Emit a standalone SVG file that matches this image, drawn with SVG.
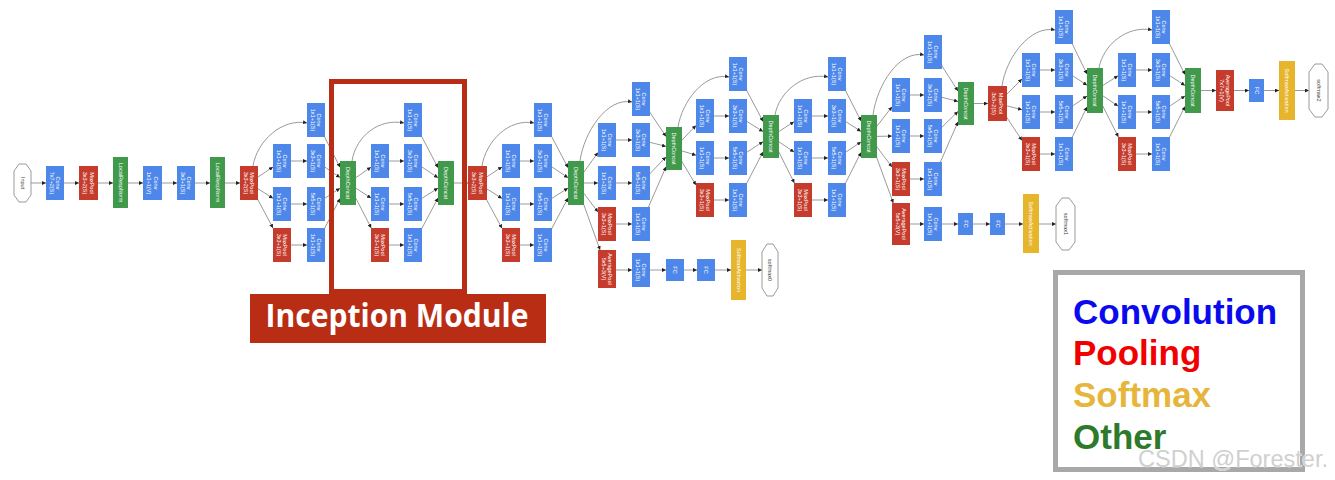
<svg xmlns="http://www.w3.org/2000/svg" width="1335" height="480" viewBox="0 0 1335 480">
<style>
.b{fill:#4d87ea}.r{fill:#c53b2c}.g{fill:#419a4c}.y{fill:#e7b52c}
.o{fill:#fff;stroke:#9a9a9a;stroke-width:1}
text.t{font-family:"Liberation Sans",Arial,sans-serif;font-size:5.5px;fill:#fff;text-anchor:middle}
text.k{font-family:"Liberation Sans",Arial,sans-serif;font-size:5.5px;fill:#444;text-anchor:middle}
.e{fill:none;stroke:#9a9a9a;stroke-width:1;marker-end:url(#a)}
.lg{font-family:"Liberation Sans",Arial,sans-serif;font-weight:bold;font-size:35px}
</style>
<defs>
<marker id="a" viewBox="0 0 6 6" refX="6" refY="3" markerWidth="4" markerHeight="4" markerUnits="userSpaceOnUse" orient="auto"><path d="M0,0L6,3L0,6z" fill="#222"/></marker>
</defs>
<rect width="1335" height="480" fill="#fff"/>

<g id="connectors">
<path class="e" d="M31 183H46"/><path class="e" d="M64 183H79"/><path class="e" d="M98 183H113"/><path class="e" d="M128 183H143"/><path class="e" d="M162 183H177"/><path class="e" d="M195 183H210"/><path class="e" d="M225 183H240"/>
<!-- 3a -->
<path class="e" d="M249 183L273 167"/><path class="e" d="M249 183L273 198.3"/><path class="e" d="M249 183L273 228.1"/>
<path class="e" d="M291 161H307"/><path class="e" d="M291 204H307"/><path class="e" d="M291 245H307"/>
<path class="e" d="M316 120L340 167.3"/><path class="e" d="M316 161L340 177.5"/><path class="e" d="M316 204L340 188.3"/><path class="e" d="M316 245L340 198.5"/>
<path class="e" d="M253 166C257 141 282 118 307 123"/>
<!-- 3b -->
<path class="e" d="M348 183L371 167.2"/><path class="e" d="M348 183L371 198.1"/><path class="e" d="M348 183L371.2 228"/>
<path class="e" d="M389 161H404"/><path class="e" d="M389 204H404"/><path class="e" d="M389 245H404"/>
<path class="e" d="M413 120L438 167.7"/><path class="e" d="M413 161L438 177.7"/><path class="e" d="M413 204L438 188.1"/><path class="e" d="M413 245L438 198"/>
<path class="e" d="M352 161C356 136 379 118 404 123"/>
<path class="e" d="M454 183H468"/>
<!-- 4a -->
<path class="e" d="M477.5 183L502 166.9"/><path class="e" d="M477.5 183L502 198.4"/><path class="e" d="M477.5 183L502 228.3"/>
<path class="e" d="M520 161H534"/><path class="e" d="M520 204H534"/><path class="e" d="M520 245H534"/>
<path class="e" d="M543 120L568 167.7"/><path class="e" d="M543 161L568 177.7"/><path class="e" d="M543 204L568 188.1"/><path class="e" d="M543 245L568 198"/>
<path class="e" d="M482 166C486 141 509 118 534 123"/>
<!-- 4b -->
<path class="e" d="M576 183L598 152.5"/><path class="e" d="M576 183H598"/><path class="e" d="M576 183L598 212.1"/><path class="e" d="M576 183L600.1 250"/>
<path class="e" d="M616 140H632"/><path class="e" d="M616 183H632"/><path class="e" d="M616 224H632"/>
<path class="e" d="M641 99L666 136.5"/><path class="e" d="M641 140L666 146.4"/><path class="e" d="M641 183L666 156.9"/><path class="e" d="M641 224L666 166.8"/>
<path class="e" d="M580 161C584 132 607 97 632 102"/>
<path class="e" d="M616 270H632"/><path class="e" d="M650 270H666"/><path class="e" d="M684 270H697"/><path class="e" d="M715 270H731"/><path class="e" d="M746 270H762"/>
<!-- 4c -->
<path class="e" d="M674 148.5L696 125.4"/><path class="e" d="M674 148.5L696 155.2"/><path class="e" d="M674 148.5L696 185.1"/>
<path class="e" d="M714 116H729"/><path class="e" d="M714 158H729"/><path class="e" d="M714 200H729"/>
<path class="e" d="M738 74L763 121.4"/><path class="e" d="M738 116L763 131.5"/><path class="e" d="M738 158L763 141.7"/><path class="e" d="M738 200L763 151.9"/>
<path class="e" d="M678 127C682 102 704 72 729 77"/>
<!-- 4d -->
<path class="e" d="M771 136.5L794 121.8"/><path class="e" d="M771 136.5L794 152"/><path class="e" d="M771 136.5L794.4 183"/>
<path class="e" d="M812 116H828"/><path class="e" d="M812 158H828"/><path class="e" d="M812 200H828"/>
<path class="e" d="M837 74L861 120.9"/><path class="e" d="M837 116L861 131.4"/><path class="e" d="M837 158L861 141.9"/><path class="e" d="M837 200L861 152.4"/>
<path class="e" d="M775 115C779 92 803 72 828 77"/>
<!-- 4e -->
<path class="e" d="M869 136.5L892 106.7"/><path class="e" d="M869 136.5L892 136.1"/><path class="e" d="M869 136.5L892 167"/><path class="e" d="M869 136.5L893.3 203"/>
<path class="e" d="M910 95H924"/><path class="e" d="M910 136H924"/><path class="e" d="M910 179H924"/>
<path class="e" d="M933 52L958 91"/><path class="e" d="M933 95L958 101.4"/><path class="e" d="M933 136L958 111.4"/><path class="e" d="M933 179L958 121.8"/>
<path class="e" d="M873 115C877 85 899 50 924 55"/>
<path class="e" d="M910 224H924"/><path class="e" d="M942 224H958"/><path class="e" d="M973 224H990"/><path class="e" d="M1005 224H1023"/><path class="e" d="M1039 224H1056"/>
<path class="e" d="M974 103.5H988"/>
<!-- 5a -->
<path class="e" d="M997.5 103.5L1022 79"/><path class="e" d="M997.5 103.5L1022 109.7"/><path class="e" d="M997.5 103.5L1022 140.4"/>
<path class="e" d="M1040 70H1055"/><path class="e" d="M1040 112H1055"/><path class="e" d="M1040 154H1055"/>
<path class="e" d="M1064 27L1087 74.1"/><path class="e" d="M1064 70L1087 85.2"/><path class="e" d="M1064 112L1087 96"/><path class="e" d="M1064 154L1087 106.9"/>
<path class="e" d="M1002 86C1006 58 1030 25 1055 30"/>
<!-- 5b -->
<path class="e" d="M1095 90.5L1118 75.8"/><path class="e" d="M1095 90.5L1118 106"/><path class="e" d="M1095 90.5L1118.4 137"/>
<path class="e" d="M1136 70H1152"/><path class="e" d="M1136 112H1152"/><path class="e" d="M1136 154H1152"/>
<path class="e" d="M1161 27L1185 74.6"/><path class="e" d="M1161 70L1185 85.4"/><path class="e" d="M1161 112L1185 95.9"/><path class="e" d="M1161 154L1185 106.4"/>
<path class="e" d="M1099 68C1103 45 1127 25 1152 30"/>
<path class="e" d="M1201 90.5H1216"/><path class="e" d="M1234 90.5H1249"/><path class="e" d="M1264 90.5H1279"/><path class="e" d="M1295 90.5H1309"/>
</g>

<!-- stem -->
<g id="input"><polygon class="o" points="19,164 26,164 31,171 31,195 26,202 19,202 14,195 14,171"/><text class="k" transform="translate(22.5 183) rotate(90)" y="2">Input</text></g>
<g id="conv1"><rect class="b" x="46" y="166" width="18" height="34"/><text class="t" transform="translate(55 183) rotate(90)"><tspan x="0" y="-1">Conv</tspan><tspan x="0" y="5.5">7x7+2(S)</tspan></text></g>
<g id="pool1"><rect class="r" x="79" y="166" width="19" height="34"/><text class="t" transform="translate(88.5 183) rotate(90)"><tspan x="0" y="-1">MaxPool</tspan><tspan x="0" y="5.5">3x3+2(S)</tspan></text></g>
<g id="lrn1"><rect class="g" x="113" y="157" width="15" height="51"/><text class="t" transform="translate(120.5 182.5) rotate(90)" y="2">LocalRespNorm</text></g>
<g id="conv2"><rect class="b" x="143" y="166" width="19" height="34"/><text class="t" transform="translate(152.5 183) rotate(90)"><tspan x="0" y="-1">Conv</tspan><tspan x="0" y="5.5">1x1+1(V)</tspan></text></g>
<g id="conv3"><rect class="b" x="177" y="166" width="18" height="34"/><text class="t" transform="translate(186 183) rotate(90)"><tspan x="0" y="-1">Conv</tspan><tspan x="0" y="5.5">3x3+1(S)</tspan></text></g>
<g id="lrn2"><rect class="g" x="210" y="157" width="15" height="51"/><text class="t" transform="translate(217.5 182.5) rotate(90)" y="2">LocalRespNorm</text></g>
<g id="pool2"><rect class="r" x="240" y="166" width="18" height="34"/><text class="t" transform="translate(249 183) rotate(90)"><tspan x="0" y="-1">MaxPool</tspan><tspan x="0" y="5.5">3x3+2(S)</tspan></text></g>

<!-- inception 3a -->
<g id="i3a_1x1"><rect class="b" x="307" y="103" width="18" height="34"/><text class="t" transform="translate(316 120) rotate(90)"><tspan x="0" y="-1">Conv</tspan><tspan x="0" y="5.5">1x1+1(S)</tspan></text></g>
<g id="i3a_3x3r"><rect class="b" x="273" y="144" width="18" height="34"/><text class="t" transform="translate(282 161) rotate(90)"><tspan x="0" y="-1">Conv</tspan><tspan x="0" y="5.5">1x1+1(S)</tspan></text></g>
<g id="i3a_3x3"><rect class="b" x="307" y="144" width="18" height="34"/><text class="t" transform="translate(316 161) rotate(90)"><tspan x="0" y="-1">Conv</tspan><tspan x="0" y="5.5">3x3+1(S)</tspan></text></g>
<g id="i3a_5x5r"><rect class="b" x="273" y="187" width="18" height="34"/><text class="t" transform="translate(282 204) rotate(90)"><tspan x="0" y="-1">Conv</tspan><tspan x="0" y="5.5">1x1+1(S)</tspan></text></g>
<g id="i3a_5x5"><rect class="b" x="307" y="187" width="18" height="34"/><text class="t" transform="translate(316 204) rotate(90)"><tspan x="0" y="-1">Conv</tspan><tspan x="0" y="5.5">5x5+1(S)</tspan></text></g>
<g id="i3a_pool"><rect class="r" x="273" y="228" width="18" height="34"/><text class="t" transform="translate(282 245) rotate(90)"><tspan x="0" y="-1">MaxPool</tspan><tspan x="0" y="5.5">3x3+1(S)</tspan></text></g>
<g id="i3a_proj"><rect class="b" x="307" y="228" width="18" height="34"/><text class="t" transform="translate(316 245) rotate(90)"><tspan x="0" y="-1">Conv</tspan><tspan x="0" y="5.5">1x1+1(S)</tspan></text></g>
<g id="i3a_concat"><rect class="g" x="340" y="161" width="16" height="44"/><text class="t" transform="translate(348 183) rotate(90)" y="2">DepthConcat</text></g>

<!-- inception 3b -->
<g id="i3b_1x1"><rect class="b" x="404" y="103" width="18" height="34"/><text class="t" transform="translate(413 120) rotate(90)"><tspan x="0" y="-1">Conv</tspan><tspan x="0" y="5.5">1x1+1(S)</tspan></text></g>
<g id="i3b_3x3r"><rect class="b" x="371" y="144" width="18" height="34"/><text class="t" transform="translate(380 161) rotate(90)"><tspan x="0" y="-1">Conv</tspan><tspan x="0" y="5.5">1x1+1(S)</tspan></text></g>
<g id="i3b_3x3"><rect class="b" x="404" y="144" width="18" height="34"/><text class="t" transform="translate(413 161) rotate(90)"><tspan x="0" y="-1">Conv</tspan><tspan x="0" y="5.5">3x3+1(S)</tspan></text></g>
<g id="i3b_5x5r"><rect class="b" x="371" y="187" width="18" height="34"/><text class="t" transform="translate(380 204) rotate(90)"><tspan x="0" y="-1">Conv</tspan><tspan x="0" y="5.5">1x1+1(S)</tspan></text></g>
<g id="i3b_5x5"><rect class="b" x="404" y="187" width="18" height="34"/><text class="t" transform="translate(413 204) rotate(90)"><tspan x="0" y="-1">Conv</tspan><tspan x="0" y="5.5">5x5+1(S)</tspan></text></g>
<g id="i3b_pool"><rect class="r" x="371" y="228" width="18" height="34"/><text class="t" transform="translate(380 245) rotate(90)"><tspan x="0" y="-1">MaxPool</tspan><tspan x="0" y="5.5">3x3+1(S)</tspan></text></g>
<g id="i3b_proj"><rect class="b" x="404" y="228" width="18" height="34"/><text class="t" transform="translate(413 245) rotate(90)"><tspan x="0" y="-1">Conv</tspan><tspan x="0" y="5.5">1x1+1(S)</tspan></text></g>
<g id="i3b_concat"><rect class="g" x="438" y="161" width="16" height="44"/><text class="t" transform="translate(446 183) rotate(90)" y="2">DepthConcat</text></g>

<g id="pool3"><rect class="r" x="468" y="166" width="19" height="34"/><text class="t" transform="translate(477.5 183) rotate(90)"><tspan x="0" y="-1">MaxPool</tspan><tspan x="0" y="5.5">3x3+2(S)</tspan></text></g>

<!-- inception 4a -->
<g id="i4a_1x1"><rect class="b" x="534" y="103" width="18" height="34"/><text class="t" transform="translate(543 120) rotate(90)"><tspan x="0" y="-1">Conv</tspan><tspan x="0" y="5.5">1x1+1(S)</tspan></text></g>
<g id="i4a_3x3r"><rect class="b" x="502" y="144" width="18" height="34"/><text class="t" transform="translate(511 161) rotate(90)"><tspan x="0" y="-1">Conv</tspan><tspan x="0" y="5.5">1x1+1(S)</tspan></text></g>
<g id="i4a_3x3"><rect class="b" x="534" y="144" width="18" height="34"/><text class="t" transform="translate(543 161) rotate(90)"><tspan x="0" y="-1">Conv</tspan><tspan x="0" y="5.5">3x3+1(S)</tspan></text></g>
<g id="i4a_5x5r"><rect class="b" x="502" y="187" width="18" height="34"/><text class="t" transform="translate(511 204) rotate(90)"><tspan x="0" y="-1">Conv</tspan><tspan x="0" y="5.5">1x1+1(S)</tspan></text></g>
<g id="i4a_5x5"><rect class="b" x="534" y="187" width="18" height="34"/><text class="t" transform="translate(543 204) rotate(90)"><tspan x="0" y="-1">Conv</tspan><tspan x="0" y="5.5">5x5+1(S)</tspan></text></g>
<g id="i4a_pool"><rect class="r" x="502" y="228" width="18" height="34"/><text class="t" transform="translate(511 245) rotate(90)"><tspan x="0" y="-1">MaxPool</tspan><tspan x="0" y="5.5">3x3+1(S)</tspan></text></g>
<g id="i4a_proj"><rect class="b" x="534" y="228" width="18" height="34"/><text class="t" transform="translate(543 245) rotate(90)"><tspan x="0" y="-1">Conv</tspan><tspan x="0" y="5.5">1x1+1(S)</tspan></text></g>
<g id="i4a_concat"><rect class="g" x="568" y="161" width="16" height="44"/><text class="t" transform="translate(576 183) rotate(90)" y="2">DepthConcat</text></g>

<!-- inception 4b + aux 0 -->
<g id="i4b_1x1"><rect class="b" x="632" y="82" width="18" height="34"/><text class="t" transform="translate(641 99) rotate(90)"><tspan x="0" y="-1">Conv</tspan><tspan x="0" y="5.5">1x1+1(S)</tspan></text></g>
<g id="i4b_3x3r"><rect class="b" x="598" y="123" width="18" height="34"/><text class="t" transform="translate(607 140) rotate(90)"><tspan x="0" y="-1">Conv</tspan><tspan x="0" y="5.5">1x1+1(S)</tspan></text></g>
<g id="i4b_3x3"><rect class="b" x="632" y="123" width="18" height="34"/><text class="t" transform="translate(641 140) rotate(90)"><tspan x="0" y="-1">Conv</tspan><tspan x="0" y="5.5">3x3+1(S)</tspan></text></g>
<g id="i4b_5x5r"><rect class="b" x="598" y="166" width="18" height="34"/><text class="t" transform="translate(607 183) rotate(90)"><tspan x="0" y="-1">Conv</tspan><tspan x="0" y="5.5">1x1+1(S)</tspan></text></g>
<g id="i4b_5x5"><rect class="b" x="632" y="166" width="18" height="34"/><text class="t" transform="translate(641 183) rotate(90)"><tspan x="0" y="-1">Conv</tspan><tspan x="0" y="5.5">5x5+1(S)</tspan></text></g>
<g id="i4b_pool"><rect class="r" x="598" y="207" width="18" height="34"/><text class="t" transform="translate(607 224) rotate(90)"><tspan x="0" y="-1">MaxPool</tspan><tspan x="0" y="5.5">3x3+1(S)</tspan></text></g>
<g id="i4b_proj"><rect class="b" x="632" y="207" width="18" height="34"/><text class="t" transform="translate(641 224) rotate(90)"><tspan x="0" y="-1">Conv</tspan><tspan x="0" y="5.5">1x1+1(S)</tspan></text></g>
<g id="i4b_concat"><rect class="g" x="666" y="127" width="16" height="43"/><text class="t" transform="translate(674 148.5) rotate(90)" y="2">DepthConcat</text></g>
<g id="aux0_pool"><rect class="r" x="598" y="250" width="18" height="38"/><text class="t" transform="translate(607 269) rotate(90)"><tspan x="0" y="-1">AveragePool</tspan><tspan x="0" y="5.5">5x5+3(V)</tspan></text></g>
<g id="aux0_conv"><rect class="b" x="632" y="253" width="18" height="34"/><text class="t" transform="translate(641 270) rotate(90)"><tspan x="0" y="-1">Conv</tspan><tspan x="0" y="5.5">1x1+1(S)</tspan></text></g>
<g id="aux0_fc1"><rect class="b" x="666" y="259" width="18" height="22"/><text class="t" transform="translate(675 270) rotate(90)" y="2">FC</text></g>
<g id="aux0_fc2"><rect class="b" x="697" y="259" width="18" height="22"/><text class="t" transform="translate(706 270) rotate(90)" y="2">FC</text></g>
<g id="aux0_sm"><rect class="y" x="731" y="240" width="15" height="60"/><text class="t" transform="translate(738.5 270) rotate(90)" y="2">SoftmaxActivation</text></g>
<g id="softmax0"><polygon class="o" points="767,244 773,244 778,252 778,288 773,296 767,296 762,288 762,252"/><text class="k" transform="translate(770 270) rotate(90)" y="2">softmax0</text></g>

<!-- inception 4c -->
<g id="i4c_1x1"><rect class="b" x="729" y="57" width="18" height="34"/><text class="t" transform="translate(738 74) rotate(90)"><tspan x="0" y="-1">Conv</tspan><tspan x="0" y="5.5">1x1+1(S)</tspan></text></g>
<g id="i4c_3x3r"><rect class="b" x="696" y="99" width="18" height="34"/><text class="t" transform="translate(705 116) rotate(90)"><tspan x="0" y="-1">Conv</tspan><tspan x="0" y="5.5">1x1+1(S)</tspan></text></g>
<g id="i4c_3x3"><rect class="b" x="729" y="99" width="18" height="34"/><text class="t" transform="translate(738 116) rotate(90)"><tspan x="0" y="-1">Conv</tspan><tspan x="0" y="5.5">3x3+1(S)</tspan></text></g>
<g id="i4c_5x5r"><rect class="b" x="696" y="141" width="18" height="34"/><text class="t" transform="translate(705 158) rotate(90)"><tspan x="0" y="-1">Conv</tspan><tspan x="0" y="5.5">1x1+1(S)</tspan></text></g>
<g id="i4c_5x5"><rect class="b" x="729" y="141" width="18" height="34"/><text class="t" transform="translate(738 158) rotate(90)"><tspan x="0" y="-1">Conv</tspan><tspan x="0" y="5.5">5x5+1(S)</tspan></text></g>
<g id="i4c_pool"><rect class="r" x="696" y="183" width="18" height="34"/><text class="t" transform="translate(705 200) rotate(90)"><tspan x="0" y="-1">MaxPool</tspan><tspan x="0" y="5.5">3x3+1(S)</tspan></text></g>
<g id="i4c_proj"><rect class="b" x="729" y="183" width="18" height="34"/><text class="t" transform="translate(738 200) rotate(90)"><tspan x="0" y="-1">Conv</tspan><tspan x="0" y="5.5">1x1+1(S)</tspan></text></g>
<g id="i4c_concat"><rect class="g" x="763" y="115" width="16" height="43"/><text class="t" transform="translate(771 136.5) rotate(90)" y="2">DepthConcat</text></g>

<!-- inception 4d -->
<g id="i4d_1x1"><rect class="b" x="828" y="57" width="18" height="34"/><text class="t" transform="translate(837 74) rotate(90)"><tspan x="0" y="-1">Conv</tspan><tspan x="0" y="5.5">1x1+1(S)</tspan></text></g>
<g id="i4d_3x3r"><rect class="b" x="794" y="99" width="18" height="34"/><text class="t" transform="translate(803 116) rotate(90)"><tspan x="0" y="-1">Conv</tspan><tspan x="0" y="5.5">1x1+1(S)</tspan></text></g>
<g id="i4d_3x3"><rect class="b" x="828" y="99" width="18" height="34"/><text class="t" transform="translate(837 116) rotate(90)"><tspan x="0" y="-1">Conv</tspan><tspan x="0" y="5.5">3x3+1(S)</tspan></text></g>
<g id="i4d_5x5r"><rect class="b" x="794" y="141" width="18" height="34"/><text class="t" transform="translate(803 158) rotate(90)"><tspan x="0" y="-1">Conv</tspan><tspan x="0" y="5.5">1x1+1(S)</tspan></text></g>
<g id="i4d_5x5"><rect class="b" x="828" y="141" width="18" height="34"/><text class="t" transform="translate(837 158) rotate(90)"><tspan x="0" y="-1">Conv</tspan><tspan x="0" y="5.5">5x5+1(S)</tspan></text></g>
<g id="i4d_pool"><rect class="r" x="794" y="183" width="18" height="34"/><text class="t" transform="translate(803 200) rotate(90)"><tspan x="0" y="-1">MaxPool</tspan><tspan x="0" y="5.5">3x3+1(S)</tspan></text></g>
<g id="i4d_proj"><rect class="b" x="828" y="183" width="18" height="34"/><text class="t" transform="translate(837 200) rotate(90)"><tspan x="0" y="-1">Conv</tspan><tspan x="0" y="5.5">1x1+1(S)</tspan></text></g>
<g id="i4d_concat"><rect class="g" x="861" y="115" width="16" height="43"/><text class="t" transform="translate(869 136.5) rotate(90)" y="2">DepthConcat</text></g>

<!-- inception 4e + aux 1 -->
<g id="i4e_1x1"><rect class="b" x="924" y="35" width="18" height="34"/><text class="t" transform="translate(933 52) rotate(90)"><tspan x="0" y="-1">Conv</tspan><tspan x="0" y="5.5">1x1+1(S)</tspan></text></g>
<g id="i4e_3x3r"><rect class="b" x="892" y="78" width="18" height="34"/><text class="t" transform="translate(901 95) rotate(90)"><tspan x="0" y="-1">Conv</tspan><tspan x="0" y="5.5">1x1+1(S)</tspan></text></g>
<g id="i4e_3x3"><rect class="b" x="924" y="78" width="18" height="34"/><text class="t" transform="translate(933 95) rotate(90)"><tspan x="0" y="-1">Conv</tspan><tspan x="0" y="5.5">3x3+1(S)</tspan></text></g>
<g id="i4e_5x5r"><rect class="b" x="892" y="119" width="18" height="34"/><text class="t" transform="translate(901 136) rotate(90)"><tspan x="0" y="-1">Conv</tspan><tspan x="0" y="5.5">1x1+1(S)</tspan></text></g>
<g id="i4e_5x5"><rect class="b" x="924" y="119" width="18" height="34"/><text class="t" transform="translate(933 136) rotate(90)"><tspan x="0" y="-1">Conv</tspan><tspan x="0" y="5.5">5x5+1(S)</tspan></text></g>
<g id="i4e_pool"><rect class="r" x="892" y="162" width="18" height="34"/><text class="t" transform="translate(901 179) rotate(90)"><tspan x="0" y="-1">MaxPool</tspan><tspan x="0" y="5.5">3x3+1(S)</tspan></text></g>
<g id="i4e_proj"><rect class="b" x="924" y="162" width="18" height="34"/><text class="t" transform="translate(933 179) rotate(90)"><tspan x="0" y="-1">Conv</tspan><tspan x="0" y="5.5">1x1+1(S)</tspan></text></g>
<g id="i4e_concat"><rect class="g" x="958" y="82" width="16" height="43"/><text class="t" transform="translate(966 103.5) rotate(90)" y="2">DepthConcat</text></g>
<g id="aux1_pool"><rect class="r" x="892" y="203" width="18" height="42"/><text class="t" transform="translate(901 224) rotate(90)"><tspan x="0" y="-1">AveragePool</tspan><tspan x="0" y="5.5">5x5+3(V)</tspan></text></g>
<g id="aux1_conv"><rect class="b" x="924" y="207" width="18" height="34"/><text class="t" transform="translate(933 224) rotate(90)"><tspan x="0" y="-1">Conv</tspan><tspan x="0" y="5.5">1x1+1(S)</tspan></text></g>
<g id="aux1_fc1"><rect class="b" x="958" y="213" width="15" height="22"/><text class="t" transform="translate(965.5 224) rotate(90)" y="2">FC</text></g>
<g id="aux1_fc2"><rect class="b" x="990" y="213" width="15" height="22"/><text class="t" transform="translate(997.5 224) rotate(90)" y="2">FC</text></g>
<g id="aux1_sm"><rect class="y" x="1023" y="194" width="16" height="59"/><text class="t" transform="translate(1031 223.5) rotate(90)" y="2">SoftmaxActivation</text></g>
<g id="softmax1"><polygon class="o" points="1062,198 1069,198 1075,206 1075,242 1069,250 1062,250 1056,242 1056,206"/><text class="k" transform="translate(1065.5 224) rotate(90)" y="2">softmax1</text></g>

<g id="pool4"><rect class="r" x="988" y="86" width="19" height="35"/><text class="t" transform="translate(997.5 103.5) rotate(90)"><tspan x="0" y="-1">MaxPool</tspan><tspan x="0" y="5.5">3x3+2(S)</tspan></text></g>

<!-- inception 5a -->
<g id="i5a_1x1"><rect class="b" x="1055" y="10" width="18" height="34"/><text class="t" transform="translate(1064 27) rotate(90)"><tspan x="0" y="-1">Conv</tspan><tspan x="0" y="5.5">1x1+1(S)</tspan></text></g>
<g id="i5a_3x3r"><rect class="b" x="1022" y="53" width="18" height="34"/><text class="t" transform="translate(1031 70) rotate(90)"><tspan x="0" y="-1">Conv</tspan><tspan x="0" y="5.5">1x1+1(S)</tspan></text></g>
<g id="i5a_3x3"><rect class="b" x="1055" y="53" width="18" height="34"/><text class="t" transform="translate(1064 70) rotate(90)"><tspan x="0" y="-1">Conv</tspan><tspan x="0" y="5.5">3x3+1(S)</tspan></text></g>
<g id="i5a_5x5r"><rect class="b" x="1022" y="95" width="18" height="34"/><text class="t" transform="translate(1031 112) rotate(90)"><tspan x="0" y="-1">Conv</tspan><tspan x="0" y="5.5">1x1+1(S)</tspan></text></g>
<g id="i5a_5x5"><rect class="b" x="1055" y="95" width="18" height="34"/><text class="t" transform="translate(1064 112) rotate(90)"><tspan x="0" y="-1">Conv</tspan><tspan x="0" y="5.5">5x5+1(S)</tspan></text></g>
<g id="i5a_pool"><rect class="r" x="1022" y="137" width="18" height="34"/><text class="t" transform="translate(1031 154) rotate(90)"><tspan x="0" y="-1">MaxPool</tspan><tspan x="0" y="5.5">3x3+1(S)</tspan></text></g>
<g id="i5a_proj"><rect class="b" x="1055" y="137" width="18" height="34"/><text class="t" transform="translate(1064 154) rotate(90)"><tspan x="0" y="-1">Conv</tspan><tspan x="0" y="5.5">1x1+1(S)</tspan></text></g>
<g id="i5a_concat"><rect class="g" x="1087" y="68" width="16" height="45"/><text class="t" transform="translate(1095 90.5) rotate(90)" y="2">DepthConcat</text></g>

<!-- inception 5b -->
<g id="i5b_1x1"><rect class="b" x="1152" y="10" width="18" height="34"/><text class="t" transform="translate(1161 27) rotate(90)"><tspan x="0" y="-1">Conv</tspan><tspan x="0" y="5.5">1x1+1(S)</tspan></text></g>
<g id="i5b_3x3r"><rect class="b" x="1118" y="53" width="18" height="34"/><text class="t" transform="translate(1127 70) rotate(90)"><tspan x="0" y="-1">Conv</tspan><tspan x="0" y="5.5">1x1+1(S)</tspan></text></g>
<g id="i5b_3x3"><rect class="b" x="1152" y="53" width="18" height="34"/><text class="t" transform="translate(1161 70) rotate(90)"><tspan x="0" y="-1">Conv</tspan><tspan x="0" y="5.5">3x3+1(S)</tspan></text></g>
<g id="i5b_5x5r"><rect class="b" x="1118" y="95" width="18" height="34"/><text class="t" transform="translate(1127 112) rotate(90)"><tspan x="0" y="-1">Conv</tspan><tspan x="0" y="5.5">1x1+1(S)</tspan></text></g>
<g id="i5b_5x5"><rect class="b" x="1152" y="95" width="18" height="34"/><text class="t" transform="translate(1161 112) rotate(90)"><tspan x="0" y="-1">Conv</tspan><tspan x="0" y="5.5">5x5+1(S)</tspan></text></g>
<g id="i5b_pool"><rect class="r" x="1118" y="137" width="18" height="34"/><text class="t" transform="translate(1127 154) rotate(90)"><tspan x="0" y="-1">MaxPool</tspan><tspan x="0" y="5.5">3x3+1(S)</tspan></text></g>
<g id="i5b_proj"><rect class="b" x="1152" y="137" width="18" height="34"/><text class="t" transform="translate(1161 154) rotate(90)"><tspan x="0" y="-1">Conv</tspan><tspan x="0" y="5.5">1x1+1(S)</tspan></text></g>
<g id="i5b_concat"><rect class="g" x="1185" y="68" width="16" height="45"/><text class="t" transform="translate(1193 90.5) rotate(90)" y="2">DepthConcat</text></g>

<!-- head -->
<g id="pool5"><rect class="r" x="1216" y="70" width="18" height="41"/><text class="t" transform="translate(1225 90.5) rotate(90)"><tspan x="0" y="-1">AveragePool</tspan><tspan x="0" y="5.5">7x7+1(V)</tspan></text></g>
<g id="fc"><rect class="b" x="1249" y="79" width="15" height="23"/><text class="t" transform="translate(1256.5 90.5) rotate(90)" y="2">FC</text></g>
<g id="sm2"><rect class="y" x="1279" y="61" width="16" height="59"/><text class="t" transform="translate(1287 90.5) rotate(90)" y="2">SoftmaxActivation</text></g>
<g id="softmax2"><polygon class="o" points="1315,64 1322,64 1328,72 1328,109 1322,117 1315,117 1309,109 1309,72"/><text class="k" transform="translate(1318.5 90.5) rotate(90)" y="2">softmax2</text></g>

<!-- inception module highlight -->
<g id="inception_label">
<rect x="331.5" y="81.5" width="133" height="210" fill="none" stroke="#b92d15" stroke-width="5"/>
<rect x="250" y="294" width="296" height="49" fill="#b92d15"/>
<text x="397" y="327" font-family="'Open Sans','Liberation Sans',sans-serif" font-weight="bold" font-size="32" fill="#fff" text-anchor="middle" textLength="263" lengthAdjust="spacingAndGlyphs">Inception Module</text>
</g>

<!-- legend -->
<g id="legend">
<rect x="1055.5" y="272.5" width="247" height="197" fill="#fff" stroke="#a8a8a8" stroke-width="5"/>
<text class="lg" x="1073" y="324" fill="#0a0aee">Convolution</text>
<text class="lg" x="1073" y="365" fill="#f20000">Pooling</text>
<text class="lg" x="1073" y="407" fill="#e6b63c">Softmax</text>
<text class="lg" x="1073" y="449" fill="#2f7a2a">Other</text>
</g>
<text x="1138" y="467" font-family="'Liberation Sans',Arial,sans-serif" font-size="24" fill="#d0d0d0" stroke="#fff" stroke-width="0.6" paint-order="stroke" textLength="190" lengthAdjust="spacingAndGlyphs">CSDN @Forester.</text>
</svg>
